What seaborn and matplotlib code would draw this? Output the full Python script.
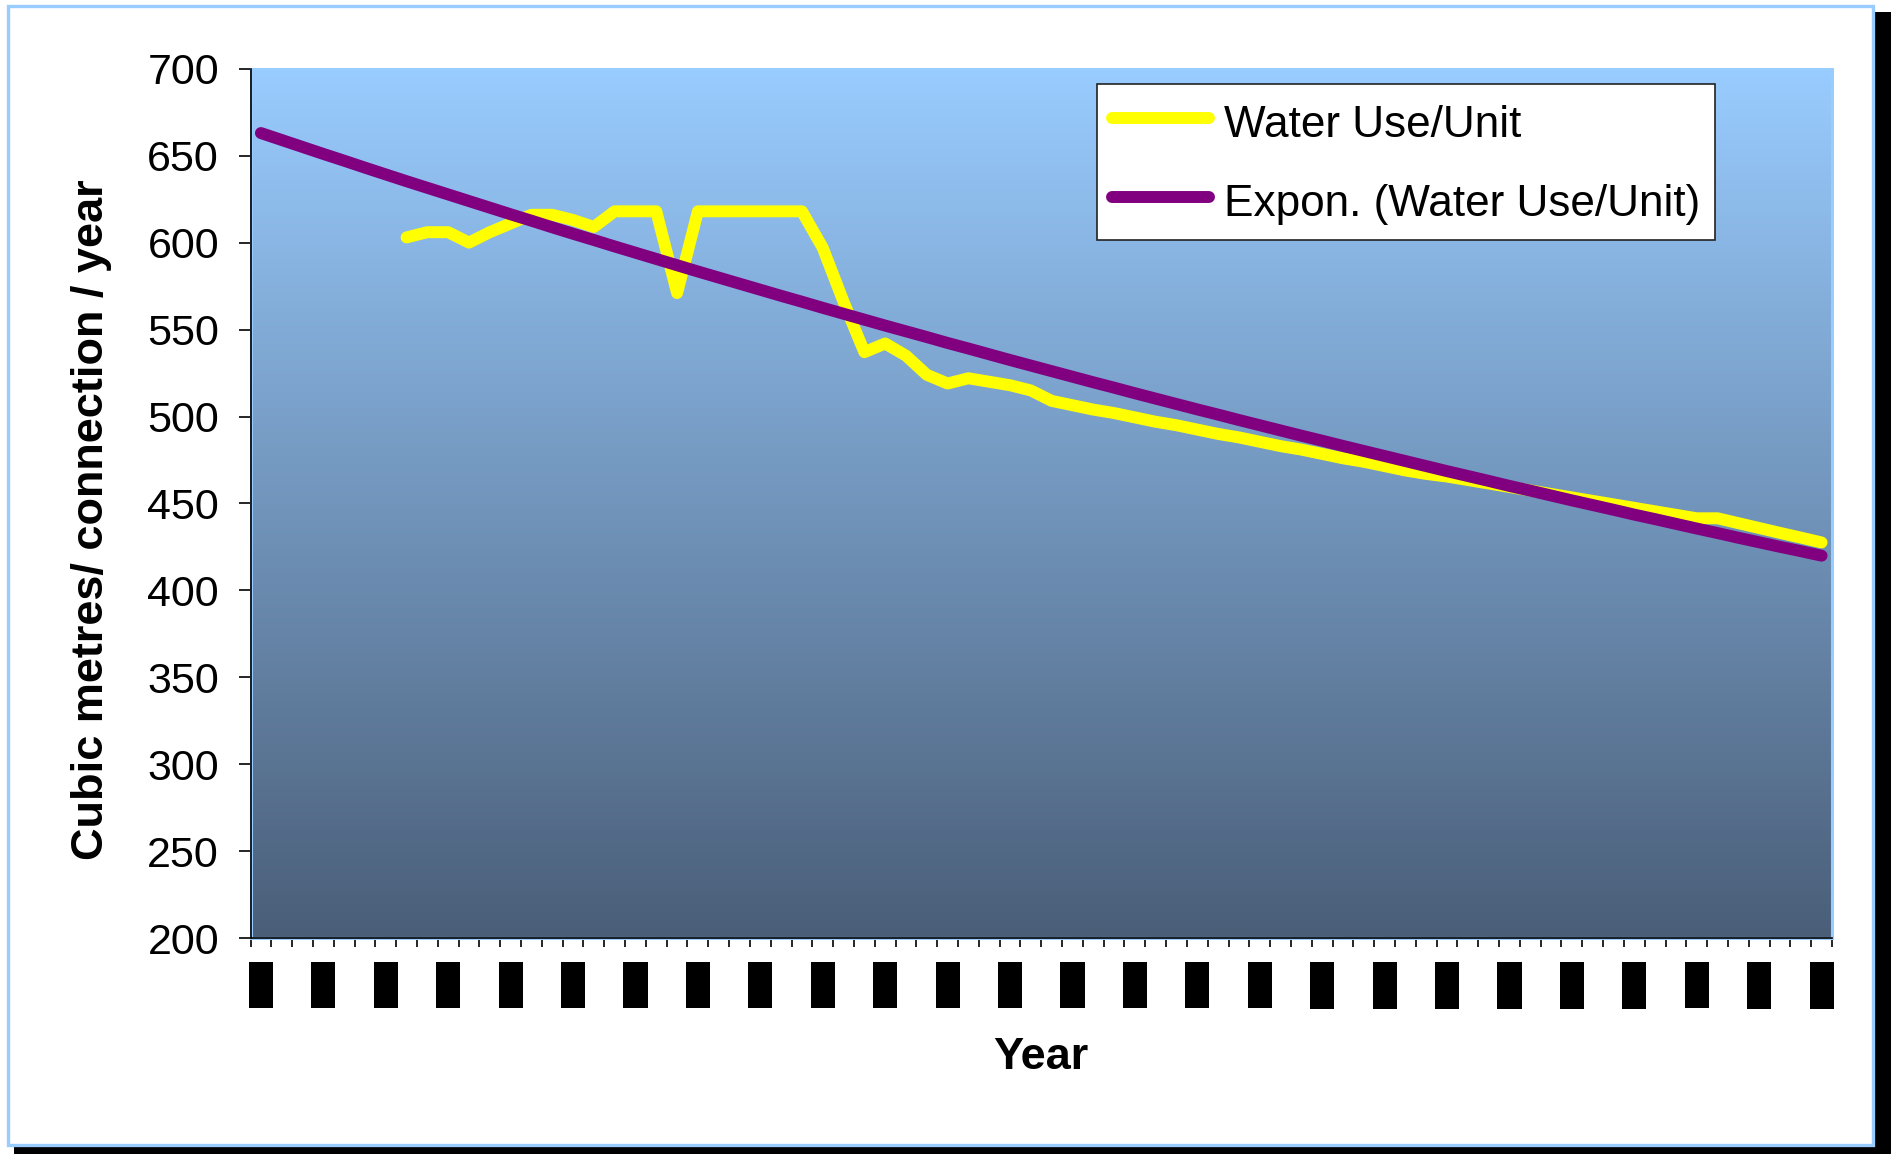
import numpy as np
import pandas as pd
import matplotlib
matplotlib.use("Agg")
import matplotlib.pyplot as plt
from matplotlib.patches import Rectangle
from matplotlib.colors import LinearSegmentedColormap
import seaborn as sns

# ---- data -------------------------------------------------------------
years = list(range(1950, 2026))

water_use = [np.nan] * 7 + [
    603, 606, 606, 600, 606, 611, 616, 616, 613, 609,
    618, 618, 618, 571, 618, 618, 618, 618, 618, 618,
    597, 566, 537, 542, 535, 524, 519, 522, 520, 518,
    515, 509, 506.5, 504, 502, 499.5, 497, 495, 492.5, 490,
    488, 485.5, 483, 481, 478.5, 476, 474, 471.5, 469, 467,
    465.5, 463.5, 461.5, 459.5, 457.5, 455.5, 453.5, 451.5, 449.5, 447.5,
    445.5, 443.5, 441.5, 441.5, 438.7, 435.9, 433.1, 430.4, 427.6,
]

expon_trend = [
    663.0, 659.0, 655.0, 651.0, 647.1, 643.1, 639.2, 635.3, 631.5, 627.7,
    623.9, 620.1, 616.3, 612.6, 608.8, 605.1, 601.5, 597.8, 594.2, 590.6,
    587.0, 583.4, 579.9, 576.4, 572.9, 569.4, 566.0, 562.5, 559.1, 555.7,
    552.3, 549.0, 545.7, 542.3, 539.1, 535.8, 532.5, 529.3, 526.1, 522.9,
    519.7, 516.6, 513.4, 510.3, 507.2, 504.1, 501.1, 498.0, 495.0, 492.0,
    489.0, 486.1, 483.1, 480.2, 477.3, 474.4, 471.5, 468.6, 465.8, 463.0,
    460.1, 457.4, 454.6, 451.8, 449.1, 446.4, 443.6, 441.0, 438.3, 435.6,
    433.0, 430.3, 427.7, 425.1, 422.6, 420.0,
]

series_names = ["Water Use/Unit", "Expon. (Water Use/Unit)"]
series_colors = ["#FFFF00", "#800080"]
y_ticks = list(range(200, 701, 50))
label_step = 3

df = pd.DataFrame({
    "idx": np.arange(len(years)),
    "year": years,
    series_names[0]: water_use,
    series_names[1]: expon_trend,
})

# ---- style ------------------------------------------------------------
sns.set_theme(style="ticks")
plt.rcParams["font.family"] = ["Liberation Sans", "DejaVu Sans"]
plt.rcParams["text.color"] = "black"

W, H = 1891, 1154
fig = plt.figure(figsize=(W / 100, H / 100), dpi=100)
fig.patch.set_facecolor("white")

# drop shadow and light-blue frame around the chart
fig.patches.append(Rectangle((14 / W, 0), 1 - 14 / W, 1 - 12 / H,
                             transform=fig.transFigure, fc="black", ec="none", zorder=-3))
fig.patches.append(Rectangle((8 / W, 1 - 1145 / H), (1873 - 8) / W, (1145 - 6) / H,
                             transform=fig.transFigure, fc="white", ec="#99CCFF",
                             lw=2.4, zorder=-2))

ax = fig.add_axes([250.5 / W, 1 - 938.3 / H, (1832 - 250.5) / W, (938.3 - 68.7) / H])

n = len(years)
xmin, xmax = -0.5, n - 0.5

# vertical gradient plot area
grad = np.linspace(0, 1, 512).reshape(-1, 1)
cmap = LinearSegmentedColormap.from_list("bg", ["#4A5E78", "#99CCFF"])
ax.imshow(grad, extent=[xmin, xmax, 200, 700], origin="lower", cmap=cmap,
          aspect="auto", zorder=0, interpolation="bilinear")
ax.add_patch(Rectangle((0, 0), 1, 1, transform=ax.transAxes, fill=False,
                       ec="#99CCFF", lw=2.2, zorder=1, clip_on=False))

lw = 8.6
for name, col, z in zip(series_names, series_colors, [3, 4]):
    sns.lineplot(data=df, x="idx", y=name, ax=ax, color=col, lw=lw, label=name,
                 solid_capstyle="round", solid_joinstyle="round", zorder=z)

ax.set_xlim(xmin, xmax)
ax.set_ylim(200, 700)

# y axis
ax.set_yticks(y_ticks)
ax.set_yticklabels([str(v) for v in y_ticks], fontsize=31, color="black")
ax.tick_params(axis="y", which="major", left=True, length=8.6, width=1.2,
               color="black", direction="out", pad=14)

# x axis: ticks between categories, year labels every third category
label_idx = list(range(0, n, label_step))
ax.set_xticks(label_idx)
ax.set_xticklabels([str(years[i]) for i in label_idx], rotation=90,
                   fontsize=12.2, color="black")
for t in ax.get_xticklabels():
    t.set_bbox(dict(boxstyle="square,pad=0.27", fc="black", ec="none"))
ax.set_xticks(np.arange(xmin, xmax + 0.01, 1), minor=True)
ax.tick_params(axis="x", which="major", bottom=True, length=0, pad=20.2)
ax.tick_params(axis="x", which="minor", bottom=True, length=6.5, width=1.2,
               color="black", direction="out")

for side in ["top", "right"]:
    ax.spines[side].set_visible(False)
for side in ["left", "bottom"]:
    ax.spines[side].set_color("black")
    ax.spines[side].set_linewidth(1.2)
    ax.spines[side].set_zorder(5)

ax.set_ylabel("Cubic metres/ connection / year", fontsize=32.5,
              fontweight="bold", color="black", va="center")
ax.yaxis.set_label_coords(-0.1005, 0.481)
ax.set_xlabel("Year", fontsize=32.5, fontweight="bold", color="black", va="center")
ax.xaxis.set_label_coords(0.5, -0.1365)

leg = ax.legend(loc="upper left", bbox_to_anchor=(1097 / W, 1 - 84 / H),
                bbox_transform=fig.transFigure, fontsize=31.8, frameon=True,
                fancybox=False, framealpha=1, edgecolor="#222222",
                borderaxespad=0, borderpad=0.33, handlelength=2.2,
                handleheight=1.23, handletextpad=0.35, labelspacing=0.74,
                labelcolor="black")
leg.get_frame().set_linewidth(1.2)
leg.get_frame().set_facecolor("white")
leg.set_zorder(10)

fig.savefig("out.png", dpi=100)
